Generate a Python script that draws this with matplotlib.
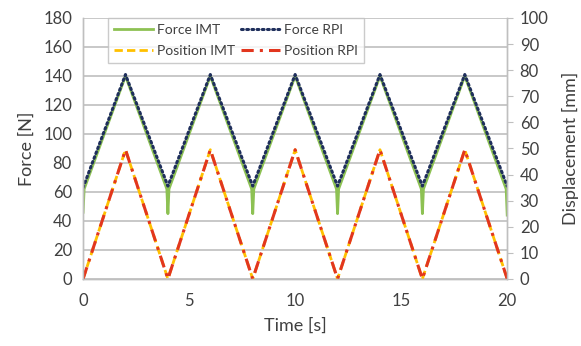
import numpy as np
import matplotlib.pyplot as plt

plt.rcParams['font.family'] = ['Lato', 'DejaVu Sans']

# force IMT: sharp dip at every turn-around
t_force_imt = [0, 0.05, 2, 3.95, 4, 4.05, 6, 7.95, 8, 8.05, 10, 11.95, 12, 12.05,
               14, 15.95, 16, 16.05, 18, 19.95, 20]
force_imt = [46, 62, 140, 62, 45, 62, 140, 62, 45, 62, 140, 62, 45, 62,
             140, 62, 45, 62, 140, 62, 44]

t_force_rpi = [0, 2, 4, 6, 8, 10, 12, 14, 16, 18, 20]
force_rpi = [63, 141, 64, 141, 64, 141, 64, 141, 64, 141, 64]

t_pos = [0, 2, 4, 6, 8, 10, 12, 14, 16, 18, 20]
pos_imt = [0, 49.5, 0, 49.5, 0, 49.5, 0, 49.5, 0, 49.5, 0]
pos_rpi = [0, 49.5, 0, 49.5, 0, 49.5, 0, 49.5, 0, 49.5, 0]

grey = '#bfbfbf'
txt = '#404040'

fig = plt.figure(figsize=(5.81, 3.46), dpi=100)
ax = fig.add_axes([0.143, 0.194, 0.730, 0.754])
ax2 = ax.twinx()

l1, = ax.plot(t_force_imt, force_imt, color='#8dc153', lw=2.0, label='Force IMT')
l2, = ax.plot(t_force_rpi, force_rpi, color='#1f2f5c', lw=2.2, ls=(0, (0.6, 1.1)),
              dash_capstyle='round', label='Force RPI')
l3, = ax2.plot(t_pos, pos_imt, color='#ffc000', lw=2.0, ls=(0, (3, 1.5)), label='Position IMT')
l4, = ax2.plot(t_pos, pos_rpi, color='#e2361e', lw=2.2, ls=(0, (4, 2, 1, 2)), label='Position RPI')

ax.set_xlim(0, 20)
ax.set_ylim(0, 180)
ax.set_xticks([0, 5, 10, 15, 20])
ax.set_yticks(np.arange(0, 181, 20))
ax2.set_ylim(0, 100)
ax2.set_yticks(np.arange(0, 101, 10))

ax.grid(axis='y', color=grey, lw=1.2)
ax.set_axisbelow(True)
for a in (ax, ax2):
    for s in a.spines.values():
        s.set_color(grey)
        s.set_linewidth(1.0)
    a.spines['top'].set_visible(False)
ax.tick_params(axis='both', length=0, labelsize=12, colors=txt, pad=8)
ax.tick_params(axis='x', pad=10)
ax2.tick_params(axis='y', length=4, color=grey, labelsize=12, labelcolor=txt, pad=5)

ax.set_xlabel('Time [s]', fontsize=13, color=txt, labelpad=6)
ax.set_ylabel('Force [N]', fontsize=13, color=txt, labelpad=6)
ax2.set_ylabel('Displacement [mm]', fontsize=13, color=txt, labelpad=10)

leg = ax2.legend(handles=[l1, l3, l2, l4], ncol=2, loc='upper left',
                 bbox_to_anchor=(0.059, 1.0), fontsize=10, frameon=True,
                 fancybox=False, edgecolor=grey, handlelength=2.8,
                 handletextpad=0.3, columnspacing=0.4, borderpad=0.45,
                 labelspacing=0.6, borderaxespad=0)
leg.get_frame().set_linewidth(1.0)
for t in leg.get_texts():
    t.set_color(txt)

fig.savefig('out.png', dpi=100)
